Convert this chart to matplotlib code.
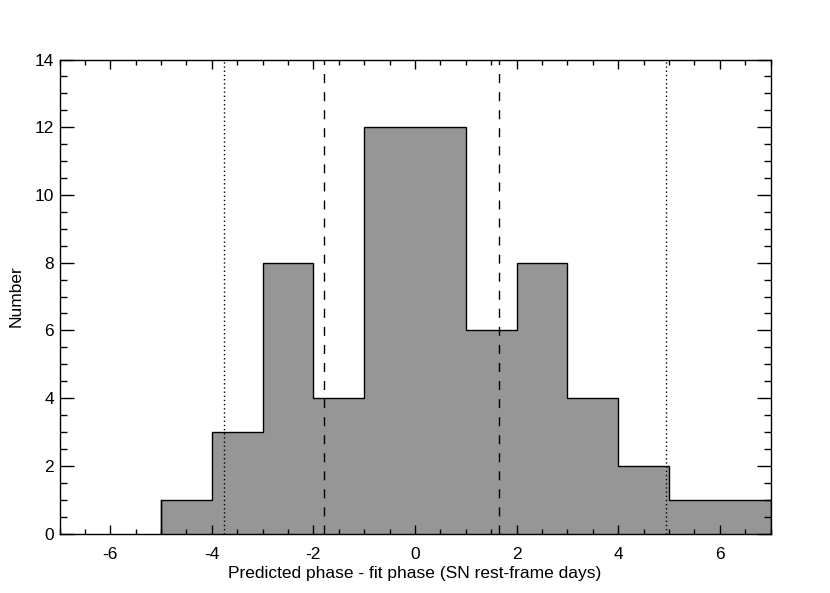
import matplotlib
matplotlib.use('Agg')
import matplotlib.pyplot as plt
import numpy as np

# histogram of predicted - fit phase, unit bins
bin_edges = [-5, -4, -3, -2, -1, 0, 1, 2, 3, 4, 5, 6, 7]
counts = [1, 3, 8, 4, 12, 12, 6, 8, 4, 2, 1, 1]

# reference lines
dotted_x = [-3.76, 4.95]
dashed_x = [-1.79, 1.65]

x_ticks = [-6, -4, -2, 0, 2, 4, 6]
y_ticks = [0, 2, 4, 6, 8, 10, 12, 14]

plt.rcParams['font.family'] = ['Liberation Sans', 'DejaVu Sans']
plt.rcParams['font.size'] = 12.5

fig = plt.figure(figsize=(8.30, 5.93), dpi=100)
ax = fig.add_axes([59.5 / 830, 1 - 533.5 / 593, 711 / 830, 474 / 593])

ax.stairs(counts, bin_edges, fill=True, color='#969696', zorder=1)
ax.stairs(counts, bin_edges, color='black', linewidth=1.0, zorder=2)
ax.plot([bin_edges[0], bin_edges[0]], [0, counts[0]], color='black', linewidth=1.0, zorder=2)

for xv in dotted_x:
    ax.axvline(xv, color='black', linewidth=1.0, dashes=(1.0, 2.0), zorder=3)
for xv in dashed_x:
    ax.axvline(xv, color='black', linewidth=1.0, dashes=(6.5, 6.5), zorder=3)

ax.set_xlim(-7, 7)
ax.set_ylim(0, 14)
ax.set_xticks(x_ticks)
ax.set_xticklabels([str(v) for v in x_ticks])
ax.set_yticks(y_ticks)
ax.set_xticks(np.arange(-7, 7.01, 0.5), minor=True)
ax.set_yticks(np.arange(0, 14.01, 0.5), minor=True)

ax.tick_params(axis='x', which='major', direction='in', length=6.8, width=1.0,
               top=True, bottom=True, pad=9.5)
ax.tick_params(axis='x', which='minor', direction='in', length=3.4, width=1.0,
               top=True, bottom=True)
ax.tick_params(axis='y', which='major', direction='in', length=10.2, width=1.0,
               left=True, right=True, pad=4)
ax.tick_params(axis='y', which='minor', direction='in', length=5.1, width=1.0,
               left=True, right=True)

for spine in ax.spines.values():
    spine.set_linewidth(1.0)
    spine.set_zorder(5)

ax.set_xlabel('Predicted phase - fit phase (SN rest-frame days)', labelpad=3)
ax.set_ylabel('Number', labelpad=8)

fig.savefig('out.png', dpi=100)
